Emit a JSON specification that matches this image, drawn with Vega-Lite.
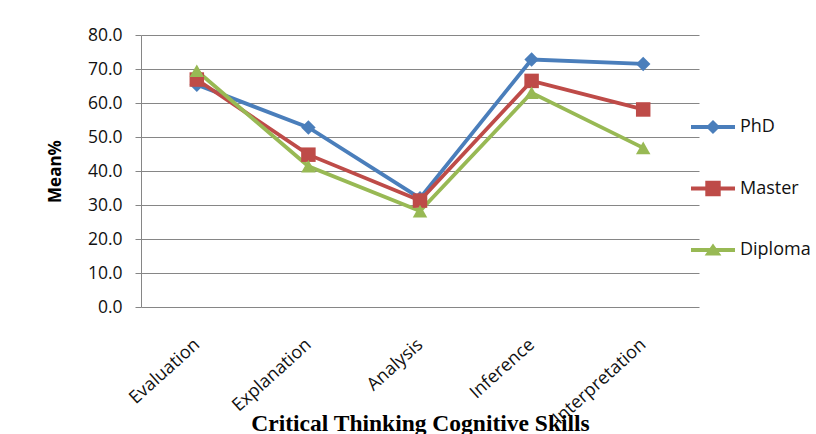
{
  "$schema": "https://vega.github.io/schema/vega-lite/v6.json",
  "width": 558,
  "height": 272,
  "autosize": "none",
  "padding": {"left": 141, "top": 35, "right": 117, "bottom": 127},
  "background": "white",
  "config": {"view": {"stroke": null}},
  "data": {
    "values": [
      {"skill": "Evaluation", "group": "PhD", "mean": 65.4},
      {"skill": "Explanation", "group": "PhD", "mean": 52.8},
      {"skill": "Analysis", "group": "PhD", "mean": 32.0},
      {"skill": "Inference", "group": "PhD", "mean": 72.8},
      {"skill": "Interpretation", "group": "PhD", "mean": 71.5},
      {"skill": "Evaluation", "group": "Master", "mean": 66.9},
      {"skill": "Explanation", "group": "Master", "mean": 44.8},
      {"skill": "Analysis", "group": "Master", "mean": 31.3},
      {"skill": "Inference", "group": "Master", "mean": 66.5},
      {"skill": "Interpretation", "group": "Master", "mean": 58.1},
      {"skill": "Evaluation", "group": "Diploma", "mean": 69.5},
      {"skill": "Explanation", "group": "Diploma", "mean": 41.4},
      {"skill": "Analysis", "group": "Diploma", "mean": 28.2},
      {"skill": "Inference", "group": "Diploma", "mean": 63.0},
      {"skill": "Interpretation", "group": "Diploma", "mean": 46.8}
    ]
  },
  "encoding": {
    "x": {
      "field": "skill",
      "type": "nominal",
      "sort": ["Evaluation", "Explanation", "Analysis", "Inference", "Interpretation"],
      "scale": {"type": "point", "padding": 0.5},
      "axis": {
        "title": "Critical Thinking Cognitive Skills",
        "titleFont": "Liberation Serif",
        "titleFontSize": 23.5,
        "titleFontWeight": "bold",
        "titleColor": "#000000",
        "titleBaseline": "alphabetic",
        "titleY": 123,
        "labelAngle": -42,
        "labelAlign": "right",
        "labelBaseline": "middle",
        "labelFont": "Open Sans",
        "labelFontSize": 18,
        "labelColor": "#111111",
        "labelPadding": 35,
        "ticks": false,
        "domain": false,
        "grid": false
      }
    },
    "y": {
      "field": "mean",
      "type": "quantitative",
      "scale": {"domain": [0, 80], "nice": false},
      "axis": {
        "values": [0, 10, 20, 30, 40, 50, 60, 70, 80],
        "format": ".1f",
        "grid": true,
        "gridColor": "#868686",
        "gridWidth": 1,
        "domainColor": "#868686",
        "tickColor": "#868686",
        "tickSize": 6,
        "labelPadding": 13,
        "labelFont": "Open Sans",
        "labelFontSize": 17.5,
        "labelColor": "#111111",
        "title": "Mean%",
        "titleFont": "Open Sans",
        "titleFontSize": 17,
        "titleFontWeight": "bold",
        "titleColor": "#000000",
        "titleX": -86,
        "titleY": 136,
        "titleBaseline": "middle"
      }
    },
    "color": {
      "field": "group",
      "type": "nominal",
      "scale": {
        "domain": ["PhD", "Master", "Diploma"],
        "range": ["#4a7ebb", "#be4b48", "#98b954"]
      },
      "legend": {
        "title": null,
        "orient": "none",
        "legendX": 550,
        "legendY": 70,
        "padding": 0,
        "rowPadding": 30.5,
        "symbolSize": 1936,
        "symbolStrokeWidth": 0,
        "labelOffset": 5,
        "labelFont": "Open Sans",
        "labelFontSize": 18,
        "labelColor": "#111111",
        "encode": {
          "symbols": {
            "update": {
              "shape": {"signal": "datum.value === 'PhD' ? 'M-1,-0.09L1,-0.09L1,0.09L-1,0.09Z M0,-0.32L0.32,0L0,0.32L-0.32,0Z' : datum.value === 'Master' ? 'M-1,-0.09L1,-0.09L1,0.09L-1,0.09Z M-0.35,-0.35L0.35,-0.35L0.35,0.35L-0.35,0.35Z' : 'M-1,-0.09L1,-0.09L1,0.09L-1,0.09Z M0,-0.3L0.38,0.25L-0.38,0.25Z'"},
              "fill": {"signal": "scale('color', datum.value)"},
              "stroke": {"value": "transparent"},
              "strokeWidth": {"value": 0},
              "opacity": {"value": 1}
            }
          }
        }
      }
    }
  },
  "layer": [
    {"mark": {"type": "line", "strokeWidth": 3.8}},
    {
      "mark": {
        "type": "point",
        "filled": true,
        "opacity": 1,
        "size": 210,
        "shape": {"expr": "datum.group === 'PhD' ? 'diamond' : datum.group === 'Master' ? 'square' : 'triangle-up'"}
      }
    }
  ]
}
